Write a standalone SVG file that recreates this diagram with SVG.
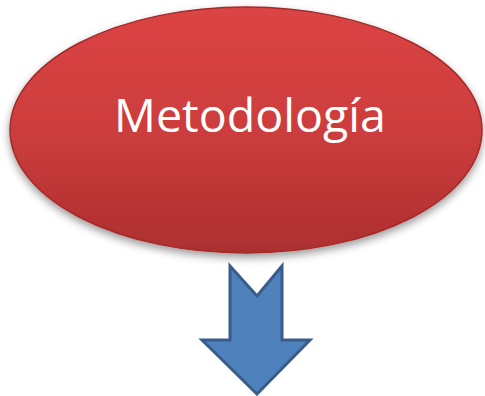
<svg xmlns="http://www.w3.org/2000/svg" width="485" height="396" viewBox="0 0 485 396">
<defs>
<linearGradient id="red" x1="0" y1="0" x2="0" y2="1">
<stop offset="0" stop-color="#dc4444"/>
<stop offset="0.5" stop-color="#cd3d3d"/>
<stop offset="1" stop-color="#ad2f2f"/>
</linearGradient>
<filter id="sh" x="-10%" y="-10%" width="120%" height="130%">
<feGaussianBlur in="SourceAlpha" stdDeviation="4"/>
<feOffset dy="4"/>
<feComponentTransfer><feFuncA type="linear" slope="0.4"/></feComponentTransfer>
<feMerge><feMergeNode/><feMergeNode in="SourceGraphic"/></feMerge>
</filter>
<style>
.lbl{font-family:"Open Sans","Noto Sans",sans-serif;fill:#ffffff;font-size:45px}
</style>
</defs>
<g id="node-metodologia">
<ellipse cx="246" cy="130" rx="236" ry="123" fill="url(#red)" stroke="#a52a2a" stroke-width="1.5" filter="url(#sh)"/>
<text class="lbl" x="250" y="132" text-anchor="middle" textLength="272" lengthAdjust="spacingAndGlyphs">Metodología</text>
</g>
<g id="connectors">
<path d="M230,266 L257,296 L282,266 L282,340 L310,340 L257,394 L202,340 L230,340 Z" fill="#4f81bd" stroke="#385d8a" stroke-width="3" stroke-linejoin="miter"/>
</g>
</svg>
